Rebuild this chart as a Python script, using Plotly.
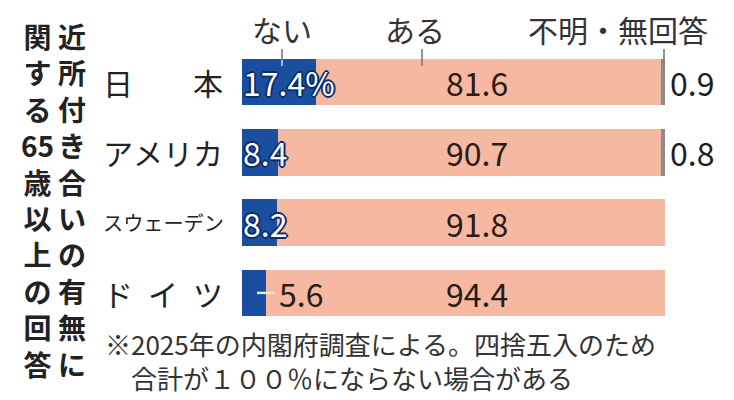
import re
import plotly.graph_objects as go

# ---- data ----
categories = ["日本", "アメリカ", "スウェーデン", "ドイツ"]
nai = [17.4, 8.4, 8.2, 5.6]          # ない
aru = [81.6, 90.7, 91.8, 94.4]       # ある
fumei = [0.9, 0.8, None, None]       # 不明・無回答
series_names = ["ない", "ある", "不明・無回答"]
title_text = "近所付き合いの有無に関する65歳以上の回答"
note_lines = ["※2025年の内閣府調査による。四捨五入のため", "　合計が１００％にならない場合がある"]

BLUE = "#1a4fa0"
SALMON = "#f6b8a0"
GRAY = "#8c8c8c"
FONT = "Noto Sans CJK JP"
TXT = "#222222"

W, H = 734, 400
L, R, T, B = 242, 69, 47, 72
PW = W - L - R
PH = H - T - B


def px_x(px):
    return (px - L) / PW * 100.0


def px_py(py):
    return (H - B - py) / PH


def paper_x(px):
    return (px - L) / PW


fig = go.Figure()
fig.add_trace(go.Bar(y=categories, x=nai, orientation="h", name=series_names[0],
                     marker=dict(color=BLUE, line=dict(width=0))))
fig.add_trace(go.Bar(y=categories, x=aru, orientation="h", name=series_names[1],
                     marker=dict(color=SALMON, line=dict(width=0))))
fig.add_trace(go.Bar(y=categories, x=fumei, orientation="h", name=series_names[2],
                     marker=dict(color=GRAY, line=dict(width=0))))

ann = []
shapes = []

# vertical title (two columns, right column first)
cells = re.findall(r"\d+|.", title_text)
right_col, left_col = cells[:10], cells[10:]
for col_cells, cx in ((right_col, 72), (left_col, 37)):
    ann.append(dict(x=paper_x(cx), y=px_py(200), xref="paper", yref="paper",
                    text="<br>".join(col_cells), showarrow=False, align="center",
                    xanchor="center", yanchor="middle", borderpad=0,
                    font=dict(family=FONT, size=28, color=TXT, weight="bold")))

# category labels (justified between 103 and 223 px)
for cat in categories:
    chars = list(cat)
    n = len(chars)
    if n <= 4:
        fs = 30
        step = (120 - fs) / (n - 1)
        for i, ch in enumerate(chars):
            ann.append(dict(x=paper_x(103 + i * step - 2), y=cat, xref="paper", yref="y",
                            text=ch, showarrow=False, xanchor="left", yanchor="middle",
                            font=dict(family=FONT, size=fs, color=TXT)))
    else:
        fs = 121 / n
        ann.append(dict(x=paper_x(101), y=cat, xref="paper", yref="y",
                        text=cat, showarrow=False, xanchor="left", yanchor="middle",
                        font=dict(family=FONT, size=fs, color=TXT)))

# header labels with tick marks
hdr = [(series_names[0], 282, 282), (series_names[1], 415, 422), (series_names[2], 618, 664)]
for name, cx, tx in hdr:
    ann.append(dict(x=paper_x(cx), y=px_py(29), xref="paper", yref="paper", text=name,
                    showarrow=False, xanchor="center", yanchor="middle",
                    font=dict(family=FONT, size=30, color="#333333")))
    shapes.append(dict(type="line", xref="x", yref="paper", x0=px_x(tx), x1=px_x(tx),
                       y0=px_py(49), y1=px_py(60), line=dict(color="#6f6f6f", width=1.5),
                       layer="above"))
    shapes.append(dict(type="line", xref="x", yref="paper", x0=px_x(tx), x1=px_x(tx),
                       y0=px_py(60), y1=px_py(66),
                       line=dict(color="#d8d8e8" if name == series_names[0] else "#8a7a74", width=1.5),
                       layer="above"))

outline = ", ".join(f"{dx}px {dy}px 0 #0c2c6a" for dx, dy in
                    [(-2, 0), (2, 0), (0, -2), (0, 2), (-1, -1), (1, -1), (-1, 1), (1, 1)])

# value labels
for i, cat in enumerate(categories):
    v = nai[i]
    txt = f"{v}%" if i == 0 else f"{v}"
    if v >= 8:
        ann.append(dict(x=paper_x(241), y=cat, xref="paper", yref="y", text=txt, showarrow=False,
                        xanchor="left", yanchor="middle",
                        font=dict(family=FONT, size=32, color="white", shadow=outline)))
    else:
        shapes.append(dict(type="line", xref="x", yref="y", x0=px_x(257), x1=px_x(274),
                           y0=cat, y1=cat, line=dict(color="#e6e6e6", width=2.5), layer="above"))
        ann.append(dict(x=paper_x(277), y=cat, xref="paper", yref="y", text=txt, showarrow=False,
                        xanchor="left", yanchor="middle",
                        font=dict(family=FONT, size=32, color="#2a1a18")))
    ann.append(dict(x=paper_x(477), y=cat, xref="paper", yref="y", text=f"{aru[i]}", showarrow=False,
                    xanchor="center", yanchor="middle",
                    font=dict(family=FONT, size=32, color="#2a1a18")))
    if fumei[i]:
        ann.append(dict(x=paper_x(668), y=cat, xref="paper", yref="y", text=f"{fumei[i]}",
                        showarrow=False, xanchor="left", yanchor="middle",
                        font=dict(family=FONT, size=32, color="#1e1e1e")))

# footnote
ann.append(dict(x=paper_x(104), y=px_py(360), xref="paper", yref="paper",
                text="<br>".join(note_lines), showarrow=False, align="left",
                xanchor="left", yanchor="middle", borderpad=0,
                font=dict(family=FONT, size=26, color="#333333")))

fig.update_layout(
    width=W, height=H,
    margin=dict(l=L, r=R, t=T, b=B, pad=0),
    barmode="stack", bargap=0.34,
    showlegend=False,
    plot_bgcolor="white", paper_bgcolor="white",
    xaxis=dict(range=[0, 100], visible=False, fixedrange=True),
    yaxis=dict(autorange="reversed", visible=False, fixedrange=True),
    annotations=ann, shapes=shapes,
)

fig.write_html("out.html", config={"displayModeBar": False})
